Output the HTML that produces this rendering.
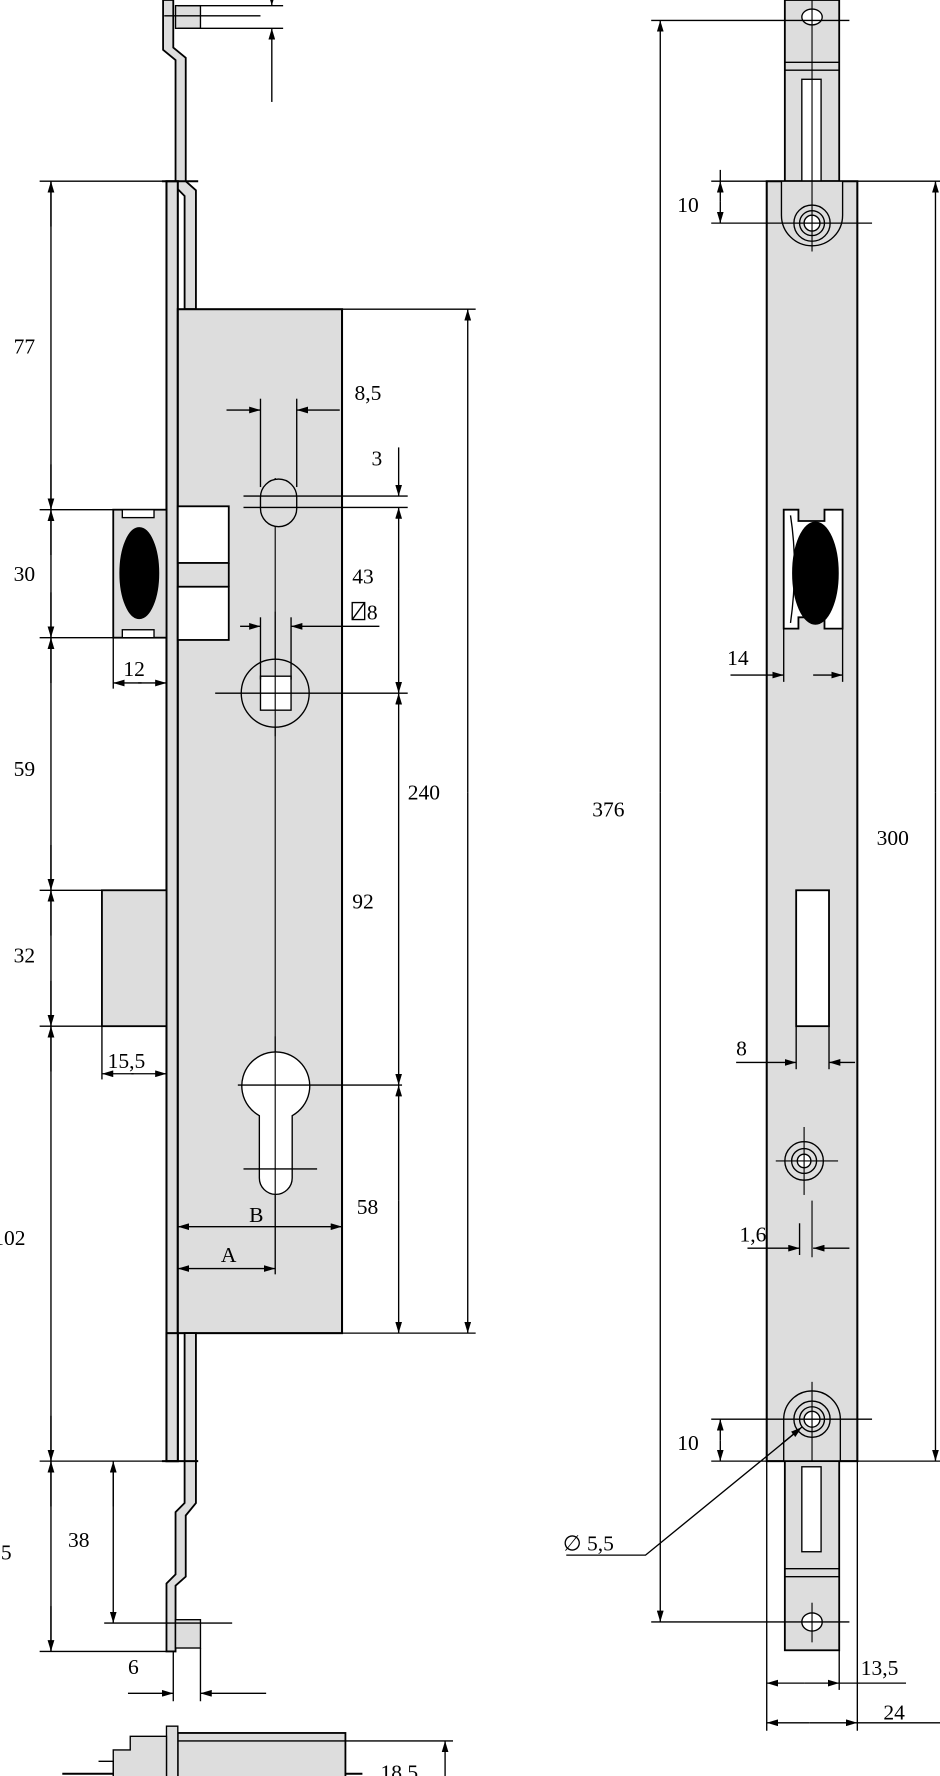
<!DOCTYPE html>
<html><head><meta charset="utf-8"><style>
html,body{margin:0;padding:0;background:#fff;}
svg{display:block;}
text{font-family:"Liberation Serif",serif;font-size:19px;fill:#000;}
</style></head><body>
<svg width="940" height="1776" viewBox="0 0 830 1568" preserveAspectRatio="none" xmlns="http://www.w3.org/2000/svg">
<defs>
<marker id="a" viewBox="0 0 10 6" refX="10" refY="3" markerWidth="10" markerHeight="6" orient="auto-start-reverse" markerUnits="userSpaceOnUse"><path d="M0,0 L10,3 L0,6 z" fill="#000"/></marker>
</defs>
<g stroke="#000" stroke-width="1.2" fill="none">
<!-- LEFT DRAWING -->
<!-- top rod -->
<path d="M144,0 L144,44 L155,53 L155,165 L163,173 L163,273 L173,273 L173,168 L164,160 L164,51 L153,42 L153,0 Z" fill="#ddd" stroke-width="1.6"/>
<!-- faceplate -->
<rect x="147" y="160" width="10" height="1130" fill="#ddd" stroke-width="1.8"/>
<line x1="143" y1="160" x2="175" y2="160" stroke-width="1.8"/>
<rect x="155" y="5" width="22" height="20" fill="#ddd"/>
<line x1="145" y1="14" x2="230" y2="14"/>
<line x1="157" y1="5" x2="250" y2="5"/>
<line x1="157" y1="25" x2="250" y2="25"/>
<line x1="240" y1="-10" x2="240" y2="5" marker-end="url(#a)"/>
<line x1="240" y1="90" x2="240" y2="25" marker-end="url(#a)"/>
<!-- case -->
<rect x="157" y="273" width="145" height="904" fill="#ddd" stroke-width="1.8"/>
<!-- bottom rod -->
<path d="M163,1177 L163,1327 L155,1335 L155,1390 L147,1398 L147,1458 L155,1458 L155,1400 L164,1392 L164,1338 L173,1327 L173,1177 Z" fill="#ddd" stroke-width="1.6"/>
<rect x="147" y="1177" width="10" height="113" fill="#ddd" stroke-width="1.8"/>
<rect x="155" y="1430" width="22" height="25" fill="#ddd"/>
<line x1="143" y1="1290" x2="175" y2="1290" stroke-width="1.8"/>
<!-- strike -->
<rect x="100" y="450" width="47" height="113" fill="#ddd" stroke-width="1.6"/>
<rect x="108" y="450" width="28" height="7" fill="#fff"/>
<rect x="108" y="556" width="28" height="7" fill="#fff"/>
<ellipse cx="123" cy="506" rx="17" ry="40" fill="#000"/>
<!-- latch -->
<rect x="157" y="447" width="45" height="50" fill="#fff" stroke-width="1.6"/>
<rect x="157" y="518" width="45" height="47" fill="#fff" stroke-width="1.6"/>
<line x1="202" y1="497" x2="202" y2="518" stroke-width="1.6"/>
<!-- bolt -->
<rect x="90" y="786" width="57" height="120" fill="#ddd" stroke-width="1.6"/>
<!-- left vertical chain -->
<line x1="45" y1="160" x2="45" y2="1458"/>
<path d="M35,160 H147 M35,450 H100 M35,563 H100 M35,786 H90 M35,906 H90 M35,1290 H147 M35,1458 H147"/>
<line x1="45" y1="200" x2="45" y2="160" marker-end="url(#a)"/>
<line x1="45" y1="410" x2="45" y2="450" marker-end="url(#a)"/>
<line x1="45" y1="490" x2="45" y2="450" marker-end="url(#a)"/>
<line x1="45" y1="523" x2="45" y2="563" marker-end="url(#a)"/>
<line x1="45" y1="603" x2="45" y2="563" marker-end="url(#a)"/>
<line x1="45" y1="746" x2="45" y2="786" marker-end="url(#a)"/>
<line x1="45" y1="826" x2="45" y2="786" marker-end="url(#a)"/>
<line x1="45" y1="866" x2="45" y2="906" marker-end="url(#a)"/>
<line x1="45" y1="946" x2="45" y2="906" marker-end="url(#a)"/>
<line x1="45" y1="1250" x2="45" y2="1290" marker-end="url(#a)"/>
<line x1="45" y1="1330" x2="45" y2="1290" marker-end="url(#a)"/>
<line x1="45" y1="1418" x2="45" y2="1458" marker-end="url(#a)"/>
<!-- 38 -->
<line x1="100" y1="1330" x2="100" y2="1290" marker-end="url(#a)"/>
<line x1="100" y1="1300" x2="100" y2="1433" marker-end="url(#a)"/>
<line x1="92" y1="1433" x2="205" y2="1433"/>
<!-- 6 -->
<line x1="153" y1="1458" x2="153" y2="1502"/>
<line x1="177" y1="1455" x2="177" y2="1502"/>
<line x1="113" y1="1495" x2="153" y2="1495" marker-end="url(#a)"/>
<line x1="235" y1="1495" x2="177" y2="1495" marker-end="url(#a)"/>
<!-- 12 -->
<line x1="100" y1="563" x2="100" y2="608"/>
<line x1="147" y1="563" x2="147" y2="608"/>
<line x1="125" y1="603" x2="100" y2="603" marker-end="url(#a)"/>
<line x1="122" y1="603" x2="147" y2="603" marker-end="url(#a)"/>
<!-- 15,5 -->
<line x1="90" y1="906" x2="90" y2="953"/>
<line x1="118" y1="948" x2="90" y2="948" marker-end="url(#a)"/>
<line x1="116" y1="948" x2="147" y2="948" marker-end="url(#a)"/>
<!-- inside case -->
<line x1="243" y1="422" x2="243" y2="1125" stroke-width="1"/>
<rect x="230" y="423" width="32" height="42" rx="16" fill="#ddd"/>
<line x1="215" y1="438" x2="360" y2="438"/>
<line x1="215" y1="448" x2="360" y2="448"/>
<line x1="230" y1="352" x2="230" y2="430"/>
<line x1="262" y1="352" x2="262" y2="430"/>
<line x1="200" y1="362" x2="230" y2="362" marker-end="url(#a)"/>
<line x1="300" y1="362" x2="262" y2="362" marker-end="url(#a)"/>
<!-- follower -->
<circle cx="243" cy="612" r="30" fill="#ddd"/>
<rect x="230" y="597" width="27" height="30" fill="#fff"/>
<line x1="243" y1="540" x2="243" y2="650" stroke-width="1"/>
<line x1="190" y1="612" x2="360" y2="612"/>
<line x1="230" y1="545" x2="230" y2="600"/>
<line x1="257" y1="545" x2="257" y2="600"/>
<line x1="212" y1="553" x2="230" y2="553" marker-end="url(#a)"/>
<line x1="335" y1="553" x2="257" y2="553" marker-end="url(#a)"/>
<rect x="311" y="532" width="11" height="15"/>
<line x1="311" y1="547" x2="322" y2="532"/>
<!-- cylinder -->
<path d="M229,1040 L229,985 A30,30 0 1 1 258,985 L258,1040 A14.5,14.5 0 0 1 229,1040 Z" fill="#fff"/>
<line x1="243" y1="915" x2="243" y2="1125" stroke-width="1"/>
<line x1="210" y1="958" x2="355" y2="958"/>
<line x1="215" y1="1032" x2="280" y2="1032"/>
<!-- B, A -->
<line x1="200" y1="1083" x2="157" y2="1083" marker-end="url(#a)"/>
<line x1="200" y1="1083" x2="302" y2="1083" marker-end="url(#a)"/>
<line x1="200" y1="1120" x2="157" y2="1120" marker-end="url(#a)"/>
<line x1="200" y1="1120" x2="243" y2="1120" marker-end="url(#a)"/>
<!-- right dims of case -->
<line x1="302" y1="273" x2="420" y2="273"/>
<line x1="302" y1="1177" x2="420" y2="1177"/>
<line x1="413" y1="700" x2="413" y2="273" marker-end="url(#a)"/>
<line x1="413" y1="700" x2="413" y2="1177" marker-end="url(#a)"/>
<line x1="352" y1="395" x2="352" y2="438" marker-end="url(#a)"/>
<line x1="352" y1="520" x2="352" y2="448" marker-end="url(#a)"/>
<line x1="352" y1="520" x2="352" y2="612" marker-end="url(#a)"/>
<line x1="352" y1="780" x2="352" y2="612" marker-end="url(#a)"/>
<line x1="352" y1="780" x2="352" y2="958" marker-end="url(#a)"/>
<line x1="352" y1="1060" x2="352" y2="958" marker-end="url(#a)"/>
<line x1="352" y1="1060" x2="352" y2="1177" marker-end="url(#a)"/>
<!-- bottom view -->
<path d="M55,1566 H320" stroke-width="1.8"/>
<rect x="157" y="1530" width="148" height="40" fill="#ddd" stroke-width="1.6"/>
<line x1="157" y1="1537" x2="305" y2="1537"/>
<rect x="147" y="1524" width="10" height="50" fill="#ddd"/>
<path d="M100,1545 L115,1545 L115,1533 L147,1533 L147,1570 L100,1570 Z" fill="#ddd"/>
<path d="M87,1555 L100,1555 L100,1570" />
<line x1="305" y1="1537" x2="400" y2="1537"/>
<line x1="393" y1="1580" x2="393" y2="1537" marker-end="url(#a)"/>

<!-- RIGHT DRAWING -->
<rect x="693" y="0" width="48" height="160" fill="#ddd" stroke-width="1.6"/>
<line x1="693" y1="55" x2="741" y2="55"/>
<line x1="693" y1="62" x2="741" y2="62"/>
<rect x="708" y="70" width="17" height="90" fill="#fff"/>
<ellipse cx="717" cy="15" rx="9" ry="7" fill="#fff"/>
<rect x="677" y="160" width="80" height="1130" fill="#ddd" stroke-width="1.8"/>
<path d="M690,160 L690,190 A27,27 0 0 0 744,190 L744,160" fill="#ddd"/>
<circle cx="717" cy="197" r="16"/>
<circle cx="717" cy="197" r="11"/>
<circle cx="717" cy="197" r="7" fill="#fff"/>
<line x1="717" y1="0" x2="717" y2="222" stroke-width="1"/>
<line x1="628" y1="160" x2="830" y2="160"/>
<line x1="628" y1="197" x2="770" y2="197"/>
<line x1="575" y1="18" x2="750" y2="18"/>
<!-- strike -->
<path d="M692,450 H705 V460 H728 V450 H744 V555 H728 V545 H705 V555 H692 Z" fill="#fff" stroke-width="1.6"/>
<path d="M698,455 Q705,500 698,550"/>
<ellipse cx="720" cy="506" rx="20" ry="45" fill="#000"/>
<!-- slot -->
<rect x="703" y="786" width="29" height="120" fill="#fff" stroke-width="1.6"/>
<!-- mid hole -->
<circle cx="710" cy="1025" r="17"/>
<circle cx="710" cy="1025" r="11"/>
<circle cx="710" cy="1025" r="6" fill="#fff"/>
<line x1="710" y1="995" x2="710" y2="1055" stroke-width="1"/>
<line x1="685" y1="1025" x2="740" y2="1025" stroke-width="1"/>
<line x1="717" y1="1060" x2="717" y2="1110" stroke-width="1"/>
<!-- bottom hole -->
<path d="M692,1290 L692,1253 A25,25 0 0 1 742,1253 L742,1290" fill="#ddd"/>
<circle cx="717" cy="1253" r="16"/>
<circle cx="717" cy="1253" r="11"/>
<circle cx="717" cy="1253" r="7" fill="#fff"/>
<line x1="717" y1="1220" x2="717" y2="1290" stroke-width="1"/>
<line x1="628" y1="1253" x2="770" y2="1253"/>
<line x1="628" y1="1290" x2="830" y2="1290"/>
<rect x="693" y="1290" width="48" height="167" fill="#ddd" stroke-width="1.6"/>
<rect x="708" y="1295" width="17" height="75" fill="#fff"/>
<line x1="693" y1="1385" x2="741" y2="1385"/>
<line x1="693" y1="1392" x2="741" y2="1392"/>
<ellipse cx="717" cy="1432" rx="9" ry="8" fill="#fff"/>
<line x1="717" y1="1415" x2="717" y2="1450" stroke-width="1"/>
<line x1="575" y1="1432" x2="750" y2="1432"/>
<!-- dims -->
<line x1="583" y1="700" x2="583" y2="18" marker-end="url(#a)"/>
<line x1="583" y1="700" x2="583" y2="1432" marker-end="url(#a)"/>
<line x1="826" y1="700" x2="826" y2="160" marker-end="url(#a)"/>
<line x1="826" y1="700" x2="826" y2="1290" marker-end="url(#a)"/>
<line x1="636" y1="150" x2="636" y2="160"/>
<line x1="636" y1="178" x2="636" y2="160" marker-end="url(#a)"/>
<line x1="636" y1="178" x2="636" y2="197" marker-end="url(#a)"/>
<line x1="636" y1="1272" x2="636" y2="1253" marker-end="url(#a)"/>
<line x1="636" y1="1272" x2="636" y2="1290" marker-end="url(#a)"/>
<line x1="692" y1="555" x2="692" y2="602"/>
<line x1="744" y1="555" x2="744" y2="602"/>
<line x1="645" y1="596" x2="692" y2="596" marker-end="url(#a)"/>
<line x1="718" y1="596" x2="744" y2="596" marker-end="url(#a)"/>
<line x1="703" y1="906" x2="703" y2="944"/>
<line x1="732" y1="906" x2="732" y2="944"/>
<line x1="650" y1="938" x2="703" y2="938" marker-end="url(#a)"/>
<line x1="755" y1="938" x2="732" y2="938" marker-end="url(#a)"/>
<line x1="706" y1="1080" x2="706" y2="1108"/>
<line x1="660" y1="1102" x2="706" y2="1102" marker-end="url(#a)"/>
<line x1="750" y1="1102" x2="718" y2="1102" marker-end="url(#a)"/>
<path d="M500,1373 H570 L706,1262" />
<line x1="690" y1="1275" x2="708" y2="1260" marker-end="url(#a)"/>
<line x1="677" y1="1290" x2="677" y2="1528"/>
<line x1="741" y1="1457" x2="741" y2="1492"/>
<line x1="757" y1="1290" x2="757" y2="1528"/>
<line x1="710" y1="1486" x2="677" y2="1486" marker-end="url(#a)"/>
<line x1="710" y1="1486" x2="741" y2="1486" marker-end="url(#a)"/>
<line x1="741" y1="1486" x2="800" y2="1486"/>
<line x1="715" y1="1521" x2="677" y2="1521" marker-end="url(#a)"/>
<line x1="715" y1="1521" x2="757" y2="1521" marker-end="url(#a)"/>
<line x1="757" y1="1521" x2="830" y2="1521"/>
</g>
<g>
<text x="12" y="312">77</text>
<text x="12" y="513">30</text>
<text x="12" y="685">59</text>
<text x="12" y="850">32</text>
<text x="-6" y="1099">102</text>
<text x="-4" y="1377">,5</text>
<text x="60" y="1366">38</text>
<text x="113" y="1478">6</text>
<text x="109" y="597">12</text>
<text x="95" y="943">15,5</text>
<text x="313" y="353">8,5</text>
<text x="328" y="411">3</text>
<text x="311" y="515">43</text>
<text x="324" y="547">8</text>
<text x="360" y="706">240</text>
<text x="311" y="802">92</text>
<text x="315" y="1072">58</text>
<text x="220" y="1079">B</text>
<text x="195" y="1114">A</text>
<text x="336" y="1571">18,5</text>
<text x="598" y="187">10</text>
<text x="523" y="721">376</text>
<text x="774" y="746">300</text>
<text x="642" y="587">14</text>
<text x="650" y="932">8</text>
<text x="653" y="1096">1,6</text>
<text x="598" y="1280">10</text>
<text x="497" y="1369">∅ 5,5</text>
<text x="760" y="1479">13,5</text>
<text x="780" y="1518">24</text>
</g>
</svg>
</body></html>
